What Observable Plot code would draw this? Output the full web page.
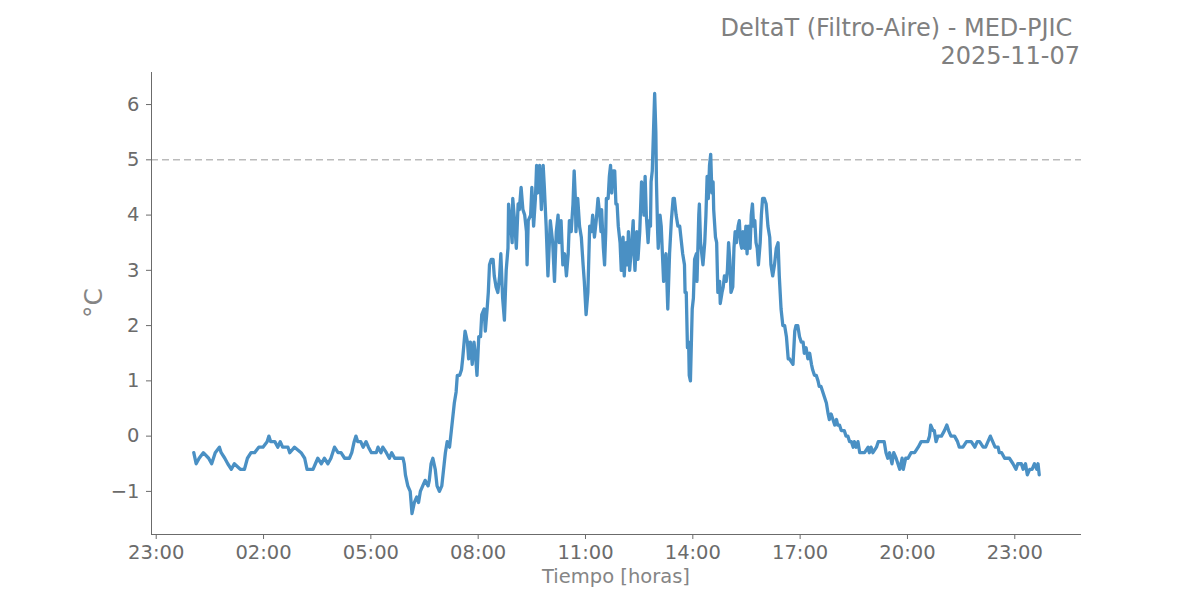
<!DOCTYPE html>
<html>
<head>
<meta charset="utf-8">
<script src="https://cdn.jsdelivr.net/npm/d3@7"></script>
<script src="https://cdn.jsdelivr.net/npm/@observablehq/plot@0.6"></script>
<style>
html, body { margin: 0; padding: 0; background: #fff; }
#wrap { position: relative; width: 1200px; height: 600px; font-family: "DejaVu Sans", sans-serif; }
#title { position: absolute; right: 120px; top: 14px; text-align: right; white-space: pre; font-size: 24px; line-height: 28px; color: #808080; }
#xlabel { position: absolute; left: 151px; width: 930px; top: 565px; text-align: center; font-size: 19.5px; color: #858585; }
#ylabel { position: absolute; left: 93px; top: 303px; transform: translate(-50%, -50%) rotate(-90deg); font-size: 25px; color: #858585; white-space: nowrap; }
#chart { position: absolute; left: 0; top: 0; }
</style>
</head>
<body>
<div id="wrap">
  <div id="chart"></div>
  <div id="title"></div>
  <div id="xlabel"></div>
  <div id="ylabel"></div>
</div>
<script>
// ---- Data ----
const titleLines = ["DeltaT (Filtro-Aire) - MED-PJIC ", "2025-11-07"];
const xAxisLabel = "Tiempo [horas]";
const yAxisLabel = "°C";
const day = [2025, 10, 7]; // 2025-11-07 (month index 10)
const threshold = 5;
const yTicks = [-1, 0, 1, 2, 3, 4, 5, 6];
const tickHours = ["-1:00", "2:00", "5:00", "8:00", "11:00", "14:00", "17:00", "20:00", "23:00"];

const times = [
  "00:03","00:07","00:12","00:19","00:28","00:33","00:39","00:46","00:49","00:55",
  "01:00","01:06","01:11","01:21","01:28","01:33","01:39","01:45","01:52","01:59",
  "02:06","02:09","02:12","02:19","02:24","02:28","02:32","02:41","02:44","02:52",
  "03:03","03:09","03:13","03:23","03:27","03:31","03:37","03:42","03:48","03:53",
  "03:59","04:05","04:10","04:16","04:24","04:28","04:32","04:35","04:38","04:43",
  "04:47","04:52","04:56","05:01","05:05","05:09","05:12","05:17","05:20","05:26",
  "05:31","05:35","05:40","05:54","05:56","05:58","06:02","06:06","06:09","06:13",
  "06:17","06:20","06:23","06:27","06:31","06:36","06:38","06:41","06:44","06:48",
  "06:51","06:55","06:59","07:03","07:05","07:08","07:12","07:15","07:20","07:23",
  "07:25","07:29","07:32","07:34","07:38","07:42","07:44","07:47","07:50","07:53",
  "07:56","07:58","08:01","08:04","08:06","08:10","08:12","08:15","08:17","08:19",
  "08:22","08:25","08:27","08:30","08:33","08:36","08:38","08:41","08:44","08:47",
  "08:50","08:51","08:54","08:57","08:58","09:01","09:04","09:07","09:09","09:12",
  "09:15","09:18","09:21","09:22","09:24","09:28","09:30","09:33","09:36","09:38",
  "09:40","09:43","09:46","09:49","09:51","09:54","09:57","09:59","10:01","10:05",
  "10:08","10:11","10:14","10:16","10:19","10:22","10:25","10:28","10:31","10:33",
  "10:36","10:39","10:41","10:43","10:44","10:47","10:50","10:53","10:56","10:58",
  "11:01","11:04","11:07","11:10","11:12","11:15","11:18","11:21","11:24","11:26",
  "11:27","11:30","11:32","11:34","11:35","11:38","11:40","11:42","11:44","11:46",
  "11:49","11:51","11:53","11:55","11:58","12:00","12:03","12:05","12:08","12:10",
  "12:12","12:14","12:17","12:20","12:21","12:23","12:26","12:28","12:31","12:34",
  "12:36","12:38","12:40","12:42","12:45","12:47","12:49","12:50","12:52","12:54",
  "12:56","12:58","12:59","13:01","13:02","13:05","13:07","13:09","13:11","13:13",
  "13:15","13:18","13:21","13:24","13:27","13:29","13:32","13:35","13:38","13:43",
  "13:46","13:47","13:49","13:51","13:53","13:54","13:56","13:59","14:01","14:03",
  "14:06","14:07","14:10","14:11","14:13","14:15","14:17","14:20","14:22","14:24",
  "14:26","14:28","14:30","14:32","14:34","14:35","14:38","14:40","14:42","14:45",
  "14:46","14:49","14:51","14:53","14:56","14:58","15:00","15:02","15:04","15:07",
  "15:09","15:11","15:13","15:16","15:18","15:20","15:22","15:24","15:27","15:29",
  "15:31","15:33","15:36","15:38","15:40","15:42","15:44","15:46","15:48","15:50",
  "15:53","15:55","15:57","16:00","16:03","16:06","16:09","16:11","16:14","16:17",
  "16:20","16:23","16:25","16:28","16:31","16:34","16:37","16:40","16:42","16:48",
  "16:51","16:53","16:56","16:59","17:02","17:05","17:07","17:10","17:13","17:16",
  "17:19","17:21","17:24","17:27","17:30","17:32","17:35","17:38","17:41","17:44",
  "17:47","17:49","17:52","17:55","17:58","18:01","18:03","18:06","18:09","18:12",
  "18:14","18:17","18:20","18:23","18:26","18:29","18:31","18:34","18:37","18:40",
  "18:43","18:48","18:54","18:56","18:59","19:02","19:08","19:11","19:16","19:21",
  "19:24","19:27","19:30","19:34","19:37","19:41","19:44","19:47","19:51","19:53",
  "19:57","20:01","20:06","20:12","20:18","20:23","20:29","20:34","20:37","20:39",
  "20:43","20:45","20:48","20:51","20:57","21:02","21:06","21:09","21:13","21:19",
  "21:24","21:27","21:33","21:39","21:47","21:53","21:57","22:01","22:07","22:11",
  "22:15","22:19","22:23","22:27","22:32","22:34","22:38","22:43","22:47","22:51",
  "22:57","23:02","23:05","23:11","23:14","23:18","23:21","23:25","23:29","23:33",
  "23:37","23:39","23:41"
];

const deltaT = [
  -0.3,-0.5,-0.4,-0.3,-0.4,-0.5,-0.3,-0.2,-0.3,-0.4,
  -0.5,-0.6,-0.5,-0.6,-0.6,-0.4,-0.3,-0.3,-0.2,-0.2,
  -0.1,0.0,-0.1,-0.1,-0.2,-0.1,-0.2,-0.2,-0.3,-0.2,
  -0.3,-0.4,-0.6,-0.6,-0.5,-0.4,-0.5,-0.4,-0.5,-0.4,
  -0.2,-0.3,-0.3,-0.4,-0.4,-0.3,-0.1,0.0,-0.1,-0.1,
  -0.2,-0.1,-0.2,-0.3,-0.3,-0.3,-0.2,-0.3,-0.2,-0.3,
  -0.4,-0.3,-0.4,-0.4,-0.5,-0.7,-0.9,-1.0,-1.4,-1.2,
  -1.1,-1.2,-1.0,-0.9,-0.8,-0.9,-0.8,-0.5,-0.4,-0.6,
  -0.9,-1.0,-0.9,-0.5,-0.3,-0.1,-0.2,0.1,0.6,0.8,
  1.1,1.1,1.2,1.4,1.9,1.7,1.4,1.7,1.3,1.7,
  1.4,1.1,1.8,1.8,2.2,2.3,1.9,2.3,2.6,3.1,
  3.2,3.2,2.9,2.7,2.6,2.9,3.3,2.5,2.1,3.0,
  3.4,4.2,3.9,3.5,4.3,3.9,3.4,4.2,4.1,4.5,
  4.1,4.0,3.7,3.1,3.9,4.0,4.5,3.8,4.3,4.9,
  4.4,4.9,4.1,4.9,4.5,3.8,2.9,3.4,3.9,3.5,
  2.8,3.7,4.0,3.5,3.9,3.1,3.3,2.9,3.3,3.9,
  3.7,4.2,4.8,4.3,3.7,4.3,3.8,3.6,3.1,2.8,
  2.2,2.6,3.8,3.7,4.0,3.6,3.9,4.3,4.0,3.7,
  4.1,3.4,3.1,3.7,4.3,4.3,4.7,4.9,4.4,4.8,
  4.8,4.2,4.2,3.8,3.5,3.0,3.6,2.9,3.5,3.1,
  3.7,3.0,3.4,3.9,3.4,3.0,3.7,3.2,3.7,4.6,
  4.4,4.0,4.7,4.0,3.5,3.9,3.8,4.6,4.8,5.5,
  6.2,5.5,4.6,3.7,3.4,4.0,3.8,3.3,2.8,3.2,
  3.3,2.3,3.3,3.9,4.3,4.3,4.0,3.8,3.8,3.3,
  3.1,2.6,2.6,1.6,1.7,1.1,1.0,2.3,2.5,3.2,
  3.3,2.8,4.0,4.2,3.5,3.3,3.1,3.5,4.0,4.7,
  4.3,4.9,5.1,4.4,4.6,4.1,3.6,3.5,2.6,2.8,
  2.4,2.6,2.7,2.9,2.8,3.0,3.5,3.2,2.6,2.7,
  3.4,3.7,3.5,3.8,3.9,3.5,3.4,3.7,3.4,3.8,
  3.3,3.8,3.4,4.0,4.2,3.8,3.9,3.5,3.4,3.1,
  3.5,4.0,4.3,4.3,4.2,3.8,3.6,3.1,2.9,3.1,
  3.4,3.5,2.9,2.3,2.0,2.0,1.8,1.4,1.4,1.3,
  1.9,2.0,2.0,1.8,1.7,1.7,1.5,1.6,1.4,1.5,
  1.3,1.2,1.1,1.1,1.0,0.9,0.9,0.8,0.7,0.6,
  0.4,0.3,0.4,0.3,0.2,0.3,0.2,0.2,0.1,0.1,
  0.1,0.0,0.0,-0.1,-0.1,-0.2,-0.1,-0.2,-0.1,-0.3,
  -0.3,-0.3,-0.2,-0.3,-0.2,-0.3,-0.2,-0.1,-0.1,-0.1,
  -0.3,-0.4,-0.3,-0.5,-0.3,-0.4,-0.5,-0.6,-0.4,-0.6,
  -0.4,-0.4,-0.3,-0.3,-0.2,-0.1,-0.1,-0.1,0.0,0.2,
  0.1,0.1,-0.1,0.0,0.0,0.1,0.2,0.1,0.0,0.0,
  -0.1,-0.2,-0.2,-0.1,-0.1,-0.2,-0.1,-0.1,-0.2,-0.2,
  -0.1,0.0,-0.1,-0.2,-0.2,-0.3,-0.3,-0.4,-0.4,-0.4,
  -0.5,-0.6,-0.5,-0.5,-0.6,-0.5,-0.7,-0.6,-0.6,-0.5,
  -0.6,-0.5,-0.7
];

// ---- Build ----
function toDate(hhmm) {
  const neg = hhmm.startsWith("-");
  const [h, m] = hhmm.replace("-", "").split(":").map(Number);
  const mins = (neg ? -1 : 1) * (h * 60 + m);
  return new Date(Date.UTC(day[0], day[1], day[2], 0, mins));
}
const n = Math.min(times.length, deltaT.length);
const data = [];
for (let i = 0; i < n; i++) data.push({ t: toDate(times[i]), v: deltaT[i] });

// matplotlib-style 5% margins
const tExt = d3.extent(data, d => d.t);
const vExt = d3.extent(data, d => d.v);
const tPad = (tExt[1] - tExt[0]) * 0.05;
const vPad = (vExt[1] - vExt[0]) * 0.05;
const xDomain = [new Date(+tExt[0] - tPad), new Date(+tExt[1] + tPad)];
const yDomain = [vExt[0] - vPad, vExt[1] + vPad];
const xTicks = tickHours.map(toDate);
const fmtTime = d3.utcFormat("%H:%M");
const fmtY = d => d < 0 ? "\u2212" + Math.abs(d) : String(d);

const chart = Plot.plot({
  width: 1200,
  height: 600,
  marginTop: 72,
  marginRight: 119,
  marginBottom: 66,
  marginLeft: 151,
  style: { fontFamily: "DejaVu Sans, sans-serif", fontSize: "19.5px", color: "#6b6b6b", background: "transparent", overflow: "visible" },
  x: { type: "utc", domain: xDomain },
  y: { domain: yDomain },
  marks: [
    Plot.ruleY([threshold], { stroke: "#bbbbbb", strokeWidth: 1.6, strokeDasharray: "7,4" }),
    Plot.line(data, { x: "t", y: "v", stroke: "#4a90c4", strokeWidth: 3.3, strokeLinejoin: "round", strokeLinecap: "round" }),
    Plot.axisX({ ticks: xTicks, tickFormat: fmtTime, tickSize: 5, tickPadding: 6, label: null }),
    Plot.axisY({ ticks: yTicks, tickFormat: fmtY, tickSize: 5, tickPadding: 7, label: null }),
    Plot.ruleX([xDomain[0]], { stroke: "#6b6b6b", strokeWidth: 1 }),
    Plot.ruleY([yDomain[0]], { stroke: "#6b6b6b", strokeWidth: 1 })
  ]
});
document.getElementById("chart").appendChild(chart);
document.getElementById("title").textContent = titleLines.join("\n");
document.getElementById("xlabel").textContent = xAxisLabel;
document.getElementById("ylabel").textContent = yAxisLabel;
</script>
</body>
</html>
